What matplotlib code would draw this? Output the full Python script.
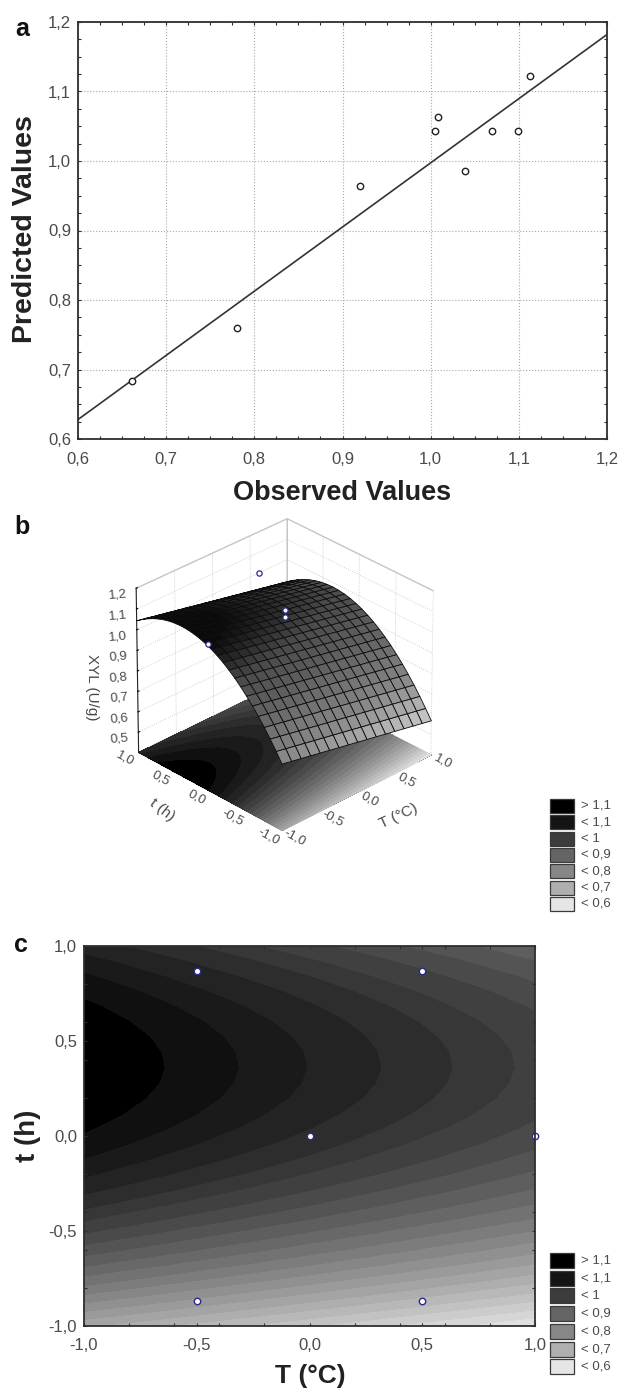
import numpy as np
import matplotlib
matplotlib.use('Agg')
import matplotlib.pyplot as plt
from matplotlib.patches import Rectangle
from matplotlib.ticker import MultipleLocator
from mpl_toolkits.mplot3d import proj3d

plt.rcParams['font.family'] = ['Liberation Sans', 'DejaVu Sans']

W, H = 620, 1391

# --- DATA ---

# panel a
observed = [0.661, 0.780, 0.920, 1.005, 1.008, 1.039, 1.069, 1.0996, 1.113]
predicted = [0.6835, 0.760, 0.964, 1.043, 1.064, 0.986, 1.043, 1.043, 1.123]
fit_x = [0.6, 1.2]
fit_y = [0.628, 1.182]
ticks_a = [0.6, 0.7, 0.8, 0.9, 1.0, 1.1, 1.2]
ticklabels_a = ['0,6', '0,7', '0,8', '0,9', '1,0', '1,1', '1,2']

t_axis = [-1.00, -0.92, -0.84, -0.76, -0.68, -0.60, -0.52, -0.44, -0.36, -0.28, -0.20, -0.12, -0.04,
          0.04, 0.12, 0.20, 0.28, 0.36, 0.44, 0.52, 0.60, 0.68, 0.76, 0.84, 0.92, 1.00]
xyl_cold = [0.721, 0.767, 0.811, 0.852, 0.890, 0.925, 0.957, 0.987, 1.0138, 1.0379, 1.0592, 1.0777, 1.0934,
            1.1063, 1.1164, 1.1237, 1.1282, 1.130, 1.1289, 1.1251, 1.1185, 1.1090, 1.0968, 1.0818, 1.0641, 1.0435]
# drop of the surface going along T
T_axis = [-1.0, -0.875, -0.75, -0.625, -0.5, -0.375, -0.25, -0.125, 0.0,
          0.125, 0.25, 0.375, 0.5, 0.625, 0.75, 0.875, 1.0]
T_drop = [0.0, 0.0095, 0.019, 0.0285, 0.038, 0.0475, 0.057, 0.0665, 0.076,
          0.0855, 0.095, 0.1045, 0.114, 0.1235, 0.133, 0.1425, 0.152]

# design points
pts_T = [-0.5, 0.5, 0.0, 1.0, -0.5, 0.5]
pts_t = [0.87, 0.87, 0.0, 0.0, -0.87, -0.87]
# points that show in the 3d view
pts3d_T = [0.5, 0.0, 0.0, -1.0]
pts3d_t = [0.87, 0.0, 0.0, 0.0]
pts3d_z = [1.04, 1.10, 1.07, 1.113]

levels = [0.50, 0.545, 0.57, 0.594, 0.618, 0.643, 0.667, 0.692, 0.716, 0.741, 0.765, 0.79, 0.814, 0.838,
          0.863, 0.887, 0.912, 0.936, 0.96, 0.985, 1.006, 1.03, 1.055, 1.078, 1.103, 1.2]

floor_ticks = [-1, -0.5, 0, 0.5, 1]
floor_labels = ['-1,0', '-0,5', '0,0', '0,5', '1,0']
legend_labels = ['> 1,1', '< 1,1', '< 1', '< 0,9', '< 0,8', '< 0,7', '< 0,6']
legend_greys = ['#000000', '#141414', '#3c3c3c', '#646464', '#878787', '#afafaf', '#e6e6e6']

# lit surface greys in the 3d panel, read at a few heights
shade_z = [0.55, 0.72, 0.85, 0.99, 1.10]
shade_grey = [205, 135, 105, 75, 10]

TEXT = '#4a4a4a'
DARK = '#2e2e2e'

T_grid, t_grid = np.meshgrid(T_axis, t_axis)
Z = np.array(xyl_cold)[:, None] - np.array(T_drop)[None, :]
norm = plt.Normalize(0.505, 1.13)
cmap = plt.get_cmap('gray_r')


def axes_px(left, top, right, bottom, **kw):
    return fig.add_axes([left / W, 1 - bottom / H, (right - left) / W, (bottom - top) / H], **kw)


def text_px(x, y, s, **kw):
    kw.setdefault('ha', 'center')
    kw.setdefault('va', 'center')
    fig.text(x / W, 1 - y / H, s, **kw)


def legend_px(left, top, step, height):
    for i, (lab, col) in enumerate(zip(legend_labels, legend_greys)):
        y = top + i * step
        fig.add_artist(Rectangle((left / W, 1 - (y + height) / H), 24 / W, height / H, transform=fig.transFigure,
                                 facecolor=col, edgecolor='#3a3a3a', linewidth=0.9))
        text_px(left + 31, y + height / 2, lab, ha='left', fontsize=9.5, color=TEXT)


def style_box(ax, minor):
    ax.xaxis.set_minor_locator(MultipleLocator(minor))
    ax.yaxis.set_minor_locator(MultipleLocator(minor))
    ax.tick_params(which='both', direction='in', top=True, right=True, color=DARK, length=2.5, width=0.8)
    ax.tick_params(which='major', labelsize=12, labelcolor=TEXT, pad=5)
    ax.tick_params(axis='x', which='major', pad=9)
    for s in ax.spines.values():
        s.set_linewidth(1.3)
        s.set_color(DARK)


def floor_label(x, y, s):
    # Text3D reports odd extents after drawing, so project it and keep it 2d
    px, py, _ = proj3d.proj_transform(x, y, 0.4, ax3.get_proj())
    ax3.text2D(px, py, s, transform=ax3.transData, fontsize=9.5, color=TEXT, rotation=-28, ha='center', va='center')


fig = plt.figure(figsize=(W / 100, H / 100), dpi=100)

# --- a ---
ax = axes_px(78, 22, 607, 439)
ax.set_xlim(0.6, 1.2)
ax.set_ylim(0.6, 1.2)
ax.set_xticks(ticks_a)
ax.set_xticklabels(ticklabels_a)
ax.set_yticks(ticks_a)
ax.set_yticklabels(ticklabels_a)
style_box(ax, 0.025)
ax.grid(True, linestyle=':', color='#a8a8a8', linewidth=0.8)
ax.set_axisbelow(True)
ax.plot(fit_x, fit_y, color='#333333', linewidth=1.2)
ax.plot(observed, predicted, 'o', mfc='white', mec='#222222', ms=4.6, mew=1.0, linestyle='none')
text_px(342, 493, 'Observed Values', fontsize=19.5, fontweight='bold', color='#222222')
text_px(25, 229, 'Predicted Values', fontsize=20.5, fontweight='bold', color='#222222', rotation=90)
text_px(22, 29, 'a', fontsize=18, fontweight='bold', color='#111111')

# --- b ---
ax3 = axes_px(69, 468, 489, 888, projection='3d', computed_zorder=False)
ax3.view_init(elev=30, azim=-134)
ax3.set_box_aspect((1, 1, 0.91), zoom=0.81)
ax3.set_proj_type('persp', focal_length=2.5)
ax3.set_xlim(-1, 1, view_margin=0)
ax3.set_ylim(-1, 1, view_margin=0)
ax3.set_zlim(0.4, 1.2, view_margin=0)
ax3.patch.set_alpha(0)
for a in (ax3.xaxis, ax3.yaxis, ax3.zaxis):
    a.set_pane_color((1, 1, 1, 1))
    a.pane.set_edgecolor('#c8c8c8')
    a._axinfo['grid'].update(color='#c4c4c4', linewidth=0.6, linestyle=':')
    a._axinfo['tick'].update(inward_factor=0.0, outward_factor=0.1)
    a.line.set_color('#222222')
ax3.set_xticks(floor_ticks)
ax3.set_yticks(floor_ticks)
ax3.set_zticks([0.5, 0.6, 0.7, 0.8, 0.9, 1.0, 1.1, 1.2])
ax3.set_zticklabels(['0,5', '0,6', '0,7', '0,8', '0,9', '1,0', '1,1', '1,2'])
for a in (ax3.xaxis, ax3.yaxis):
    for tick in a.get_major_ticks():
        tick.label1.set_visible(False)
    a.set_major_formatter(plt.NullFormatter())
ax3.tick_params(axis='z', labelsize=9.5, labelcolor=TEXT, labelrotation=5, pad=2)
ax3.contourf(T_grid, t_grid, Z, levels=levels, zdir='z', offset=0.4, cmap=cmap, norm=norm, zorder=1)
face = plt.get_cmap('gray')(np.interp(Z, shade_z, shade_grey) / 255)
ax3.plot_surface(T_grid, t_grid, Z, facecolors=face, edgecolor='#0c0c0c', linewidth=0.6, shade=False,
                 rstride=1, cstride=1, zorder=2)
ax3.plot(pts3d_T, pts3d_t, pts3d_z, 'o', mfc='white', mec='#2a2a8a', ms=3.8, mew=0.9, linestyle='none', zorder=3)
fig.canvas.draw()
for v, lab in zip(floor_ticks, floor_labels):
    floor_label(v, -1.17, lab)
    floor_label(-1.17, v, lab)
text_px(92, 687, 'XYL (U/g)', fontsize=11, color=TEXT, rotation=270)
text_px(162, 810, 't (h)', fontsize=11, color=TEXT, rotation=-38)
text_px(399, 816, 'T (°C)', fontsize=11, color=TEXT, rotation=25)
text_px(22, 527, 'b', fontsize=18, fontweight='bold', color='#111111')
legend_px(550, 799, 16.3, 14)

# --- c ---
axc = axes_px(84, 946, 535, 1326)
axc.contourf(T_grid, t_grid, Z, levels=levels, cmap=cmap, norm=norm)
axc.set_xlim(-1, 1)
axc.set_ylim(-1, 1)
axc.set_xticks(floor_ticks)
axc.set_xticklabels(floor_labels)
axc.set_yticks(floor_ticks)
axc.set_yticklabels(floor_labels)
style_box(axc, 0.2)
axc.plot(pts_T, pts_t, 'o', mfc='white', mec='#2a2a8a', ms=4.6, mew=1.0, linestyle='none', clip_on=False)
text_px(310, 1376, 'T (°C)', fontsize=19, fontweight='bold', color='#222222')
text_px(28, 1136, 't (h)', fontsize=20, fontweight='bold', color='#222222', rotation=90)
text_px(21, 945, 'c', fontsize=18, fontweight='bold', color='#111111')
legend_px(550, 1253, 17.7, 15)

fig.savefig('out.png', dpi=100)
